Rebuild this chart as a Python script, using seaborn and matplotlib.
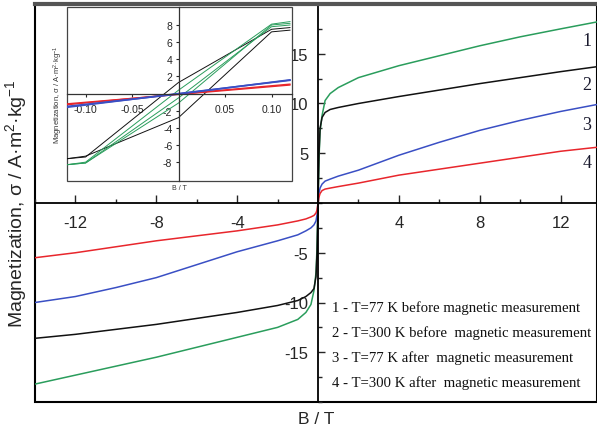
import matplotlib
matplotlib.use("Agg")
import matplotlib.pyplot as plt
import seaborn as sns
from matplotlib.patches import Rectangle
from matplotlib.ticker import MultipleLocator

sns.set_style("white")
plt.rcParams['font.family'] = ['Liberation Sans', 'DejaVu Sans']
plt.rcParams['mathtext.fontset'] = 'custom'
plt.rcParams['mathtext.rm'] = 'Liberation Sans'
plt.rcParams['mathtext.it'] = 'Liberation Sans:italic'
plt.rcParams['axes.unicode_minus'] = False

# --- main curves: field (T) and magnetization ---
b_pos = [0, 0.05, 0.1, 0.2, 0.35, 0.6, 1, 2, 4, 6, 8, 10, 12, 13.8]
b_neg = [0, -0.05, -0.1, -0.2, -0.35, -0.6, -1, -2, -4, -6, -8, -10, -12, -14]

green_pos = [0, 4.5, 7.2, 8.8, 10.3, 11.0, 11.6, 12.6, 13.8, 14.8, 15.8, 16.7, 17.5, 18.2]
green_neg = [0, -4.5, -7.0, -8.8, -10.2, -11.0, -11.7, -12.5, -13.5, -14.5, -15.5, -16.4, -17.3, -18.2]
black_pos = [0, 5.0, 7.5, 8.6, 9.1, 9.4, 9.6, 10.0, 10.7, 11.35, 12.0, 12.6, 13.2, 13.7]
black_neg = [0, -5.0, -7.4, -8.6, -9.0, -9.4, -9.8, -10.3, -11.0, -11.6, -12.2, -12.7, -13.2, -13.6]
blue_pos = [0, 1.0, 1.5, 1.9, 2.2, 2.4, 2.7, 3.3, 4.8, 6.1, 7.3, 8.3, 9.2, 9.9]
blue_neg = [0, -1.2, -1.8, -2.2, -2.5, -2.8, -3.2, -3.8, -4.9, -6.2, -7.5, -8.5, -9.4, -10.0]
red_pos = [0, 0.6, 0.95, 1.25, 1.4, 1.5, 1.65, 2.0, 2.8, 3.4, 4.0, 4.6, 5.2, 5.6]
red_neg = [0, -0.7, -1.0, -1.25, -1.4, -1.6, -1.8, -2.2, -2.8, -3.3, -3.8, -4.4, -5.0, -5.5]

# --- inset loops (low field) ---
b_down = [0.12, 0.1, 0, -0.1, -0.12]
b_up = [-0.12, -0.1, 0, 0.1, 0.12]
black_down = [7.7, 7.5, 1.3, -7.4, -7.6]
black_up = [-7.6, -7.3, -2.8, 7.2, 7.4]
green_down = [8.4, 8.1, 0.4, -8.0, -8.3]
green_up = [-8.3, -8.1, -0.5, 7.8, 8.0]
green_up2 = [-8.3, -8.1, -1.1, 8.0, 8.2]
b_line = [-0.12, 0, 0.12]
red_line = [-1.2, -0.1, 1.0]
red_line2 = [-1.3, -0.05, 1.1]
blue_line = [-1.6, 0, 1.55]
blue_line2 = [-1.5, -0.05, 1.6]

curve_numbers = ['1', '2', '3', '4']
curve_number_y = [16.3, 11.9, 7.9, 4.1]
legend_lines = [
    '1 - T=77 K before magnetic measurement',
    '2 - T=300 K before  magnetic measurement',
    '3 - T=77 K after  magnetic measurement',
    '4 - T=300 K after  magnetic measurement',
]
legend_y = [-10.5, -13.0, -15.5, -18.0]

GREEN = '#2a9d5c'
BLACK = '#111111'
BLUE = '#3a4fc4'
RED = '#e8262c'

W, H = 597, 431
fig = plt.figure(figsize=(W / 100, H / 100), dpi=100)
ax = fig.add_axes([35 / W, 1 - 403 / H, 562 / W, 398 / H])

for xs, ys, c in [(b_pos, green_pos, GREEN), (b_neg, green_neg, GREEN),
                  (b_pos, black_pos, BLACK), (b_neg, black_neg, BLACK),
                  (b_pos, blue_pos, BLUE), (b_neg, blue_neg, BLUE),
                  (b_pos, red_pos, RED), (b_neg, red_neg, RED)]:
    sns.lineplot(x=xs, y=ys, sort=False, estimator=None, color=c, lw=1.1, ax=ax)

ax.set_xlim(-14.0, 13.8)
ax.set_ylim(-20, 20)
ax.spines['left'].set_position(('data', 0))
ax.spines['bottom'].set_position(('data', 0))
ax.spines['right'].set_visible(False)
for s in ['left', 'bottom']:
    ax.spines[s].set_linewidth(1.3)
    ax.spines[s].set_color('black')
ax.spines['top'].set_linewidth(3)
ax.spines['top'].set_color('#555555')
ax.add_patch(Rectangle((0, 0), 1, 1, transform=ax.transAxes, fill=False,
                       lw=1.5, ec='black', clip_on=False, zorder=0.5))

ax.set_xticks([-12, -8, -4, 4, 8, 12])
ax.xaxis.set_minor_locator(MultipleLocator(2))
ax.set_yticks([-15, -10, -5, 5, 10, 15])
ax.yaxis.set_minor_locator(MultipleLocator(2.5))
ax.tick_params(axis='x', which='major', direction='in', length=6, width=1, pad=9,
               labelsize=12, bottom=True)
ax.tick_params(axis='x', which='minor', direction='in', length=3, width=1, bottom=True)
ax.tick_params(axis='y', which='major', direction='in', length=5, width=1, pad=7,
               labelsize=12, left=True)
ax.tick_params(axis='y', which='minor', direction='in', length=3, width=1, left=True)

ax.set_xlabel('B / T', fontsize=12.5)
ax.xaxis.set_label_coords(0.5, -0.022)
ax.set_ylabel(r'Magnetization, σ / A·m$^{2}$·kg$^{-1}$', fontsize=14)
ax.yaxis.set_label_coords(-0.01, 0.5)

for t, y in zip(curve_numbers, curve_number_y):
    ax.text(13.3, y, t, family='Liberation Serif', fontsize=13, color='#1a1a2e',
            ha='center', va='center')
for t, y in zip(legend_lines, legend_y):
    ax.text(0.7, y, t, family='Liberation Serif', fontsize=10.6, color='#111111',
            ha='left', va='center')

# --- inset ---
ins = fig.add_axes([67 / W, 1 - 182 / H, 225 / W, 174 / H])
ins.set_facecolor('white')
for xs, ys, c, lw in [(b_down, black_down, BLACK, 0.7), (b_up, black_up, BLACK, 0.7),
                      (b_down, green_down, GREEN, 0.7), (b_up, green_up, GREEN, 0.7),
                      (b_up, green_up2, GREEN, 0.7),
                      (b_line, red_line, RED, 1.0), (b_line, red_line2, RED, 1.0),
                      (b_line, blue_line, BLUE, 1.2), (b_line, blue_line2, BLUE, 1.2)]:
    sns.lineplot(x=xs, y=ys, sort=False, estimator=None, color=c, lw=lw, ax=ins)

ins.set_xlim(-0.12, 0.122)
ins.set_ylim(-10.2, 10.1)
ins.spines['left'].set_position(('data', 0))
ins.spines['bottom'].set_position(('data', 0))
ins.spines['top'].set_visible(False)
ins.spines['right'].set_visible(False)
for s in ['left', 'bottom']:
    ins.spines[s].set_linewidth(0.9)
    ins.spines[s].set_color('#333333')
ins.add_patch(Rectangle((0, 0), 1, 1, transform=ins.transAxes, fill=False,
                        lw=0.9, ec='#444444', clip_on=False))
ins.set_xticks([-0.1, -0.05, 0.05, 0.1])
ins.set_xticklabels(['-0.10', '-0.05', '0.05', '0.10'])
ins.set_yticks([-8, -6, -4, -2, 2, 4, 6, 8])
ins.set_yticklabels(['-8', '-6', '-4', '-2', '2', '4', '6', '8'])
ins.tick_params(axis='both', direction='out', length=2.5, width=0.8, labelsize=7.5,
                bottom=True, left=True)
ins.tick_params(axis='x', pad=5)
ins.tick_params(axis='y', pad=2)
ins.set_xlabel('B / T', fontsize=5, color='#333333')
ins.xaxis.set_label_coords(0.5, -0.015)
ins.set_ylabel(r'Magnetization, σ / A·m$^{2}$·kg$^{-1}$', fontsize=5.5, color='#333333')
ins.yaxis.set_label_coords(-0.01, 0.5)

fig.savefig('out.png', dpi=100)
